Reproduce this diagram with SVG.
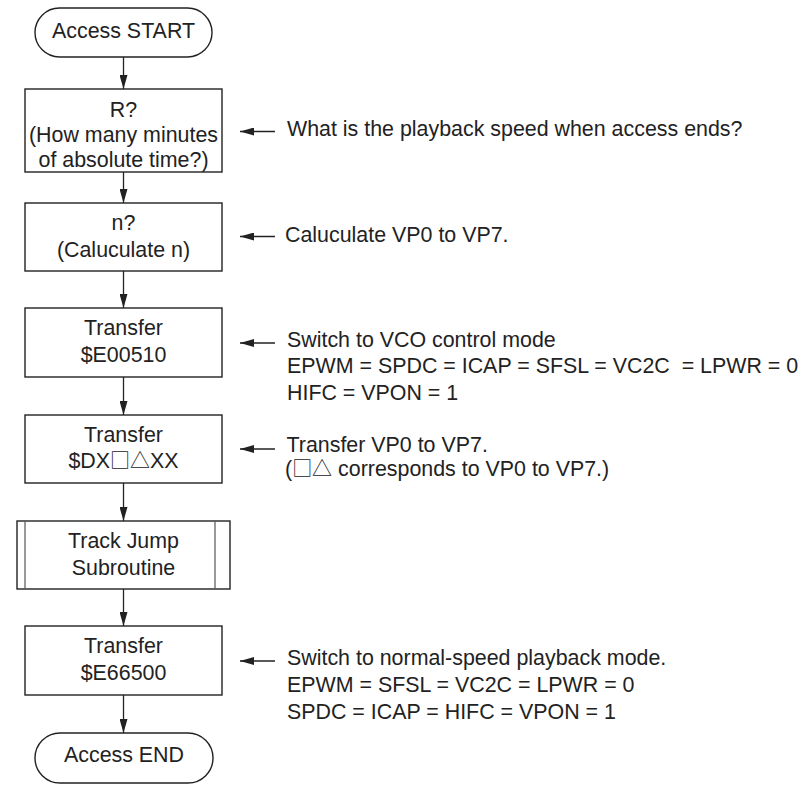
<svg xmlns="http://www.w3.org/2000/svg" width="811" height="785" viewBox="0 0 811 785">
<defs>
<marker id="ah" viewBox="0 0 14 8" refX="14" refY="4" markerWidth="14" markerHeight="8" markerUnits="userSpaceOnUse" orient="auto">
<path d="M0,0 L14,4 L0,8 Z" fill="#222"/>
</marker>
</defs>
<style>
.box{fill:#fff;stroke:#222;stroke-width:1.4}
.inner{fill:none;stroke:#555;stroke-width:1.2}
.t{font-family:"Liberation Sans",Arial,sans-serif;font-size:21.4px;fill:#222}
.sym{font-family:"Noto Sans CJK JP","Noto Sans CJK SC",sans-serif;font-size:20px}
.c{text-anchor:middle}
.ln{stroke:#222;stroke-width:1.3;fill:none;marker-end:url(#ah)}
</style>
<rect width="811" height="785" fill="#fff"/>
<g id="connectors">
<line class="ln" x1="123.5" y1="57" x2="123.5" y2="89"/>
<line class="ln" x1="123.5" y1="172" x2="123.5" y2="203"/>
<line class="ln" x1="123.5" y1="271" x2="123.5" y2="308"/>
<line class="ln" x1="123.5" y1="377" x2="123.5" y2="415"/>
<line class="ln" x1="123.5" y1="483" x2="123.5" y2="521"/>
<line class="ln" x1="123.5" y1="589" x2="123.5" y2="626"/>
<line class="ln" x1="123.5" y1="695" x2="123.5" y2="733"/>
<line class="ln" x1="275" y1="131.5" x2="240" y2="131.5"/>
<line class="ln" x1="275" y1="236.5" x2="240" y2="236.5"/>
<line class="ln" x1="275" y1="343" x2="240" y2="343"/>
<line class="ln" x1="275" y1="449" x2="240" y2="449"/>
<line class="ln" x1="275" y1="661" x2="240" y2="661"/>
</g>
<g id="start">
<rect class="box" x="35" y="8" width="177" height="49" rx="24.5" ry="24.5"/>
<text class="t c" x="123.5" y="37.5">Access START</text>
</g>
<g id="askR">
<rect class="box" x="25" y="89" width="197" height="83"/>
<text class="t c" x="123.5" y="117">R?</text>
<text class="t c" x="123.5" y="142">(How many minutes</text>
<text class="t c" x="123.5" y="166.5">of absolute time?)</text>
</g>
<g id="askN">
<rect class="box" x="25" y="203" width="197" height="68"/>
<text class="t c" x="123.5" y="230">n?</text>
<text class="t c" x="123.5" y="256.5">(Caluculate n)</text>
</g>
<g id="transfer1">
<rect class="box" x="25" y="308" width="197" height="69"/>
<text class="t c" x="123.5" y="335">Transfer</text>
<text class="t c" x="123.5" y="362">$E00510</text>
</g>
<g id="transfer2">
<rect class="box" x="25" y="415" width="197" height="68"/>
<text class="t c" x="123.5" y="441.5">Transfer</text>
<text class="t c" x="123.5" y="468">$DX<tspan class="sym">□△</tspan>XX</text>
</g>
<g id="subroutine">
<rect class="box" x="17" y="521" width="213" height="68"/>
<line class="inner" x1="25" y1="521" x2="25" y2="589"/>
<line class="inner" x1="215" y1="521" x2="215" y2="589"/>
<text class="t c" x="123.5" y="547.5">Track Jump</text>
<text class="t c" x="123.5" y="575">Subroutine</text>
</g>
<g id="transfer3">
<rect class="box" x="25" y="626" width="197" height="69"/>
<text class="t c" x="123.5" y="653">Transfer</text>
<text class="t c" x="123.5" y="680">$E66500</text>
</g>
<g id="end">
<rect class="box" x="35" y="733" width="178" height="50" rx="25" ry="25"/>
<text class="t c" x="124" y="762">Access END</text>
</g>
<g id="notes">
<text class="t" x="287" y="136">What is the playback speed when access ends?</text>
<text class="t" x="285" y="241.5">Caluculate VP0 to VP7.</text>
<text class="t" x="287" y="346.5">Switch to VCO control mode</text>
<text class="t" x="287" y="373" xml:space="preserve">EPWM = SPDC = ICAP = SFSL = VC2C  = LPWR = 0</text>
<text class="t" x="287" y="400">HIFC = VPON = 1</text>
<text class="t" x="286.5" y="451.5">Transfer VP0 to VP7.</text>
<text class="t" x="285" y="475.5">(<tspan class="sym">□△</tspan> corresponds to VP0 to VP7.)</text>
<text class="t" x="287" y="665">Switch to normal-speed playback mode.</text>
<text class="t" x="287" y="691.5">EPWM = SFSL = VC2C = LPWR = 0</text>
<text class="t" x="287" y="718.5">SPDC = ICAP = HIFC = VPON = 1</text>
</g>
</svg>
